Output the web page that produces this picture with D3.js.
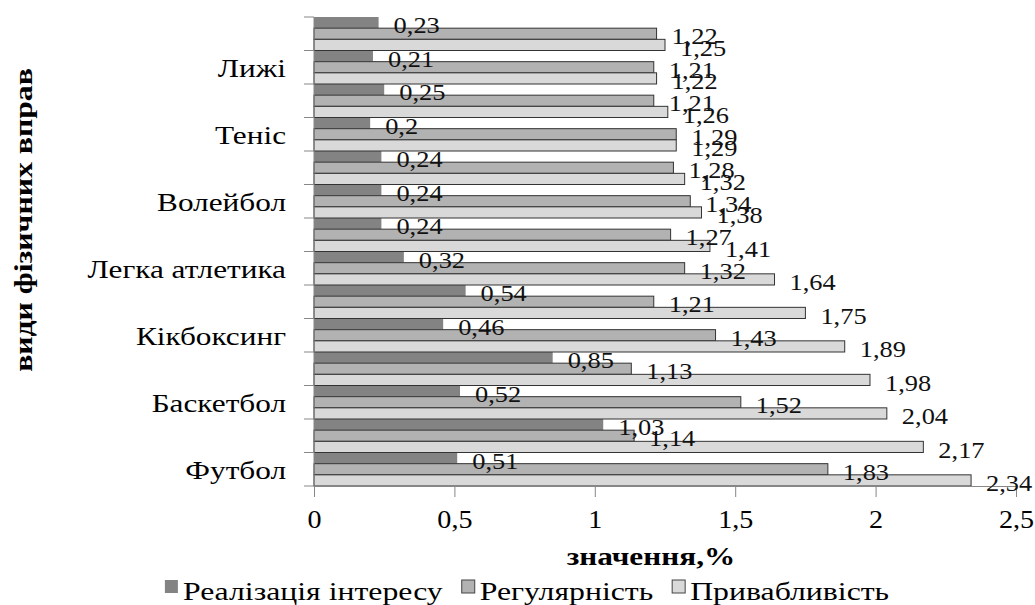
<!DOCTYPE HTML>
<html>
<head>
    <meta charset="utf-8">
    <title>Види фізичних вправ</title>
    <script src="https://d3js.org/d3.v7.min.js"></script>
    <style>
        body { margin: 0; background: #fff; }
        svg { display: block; font-family: "Liberation Serif", "Times New Roman", serif; }
    </style>
</head>
<body>
    <svg id="chart" width="1035" height="605"></svg>
    <script type="text/javascript">
        // categories from bottom to top, only every other one is labelled
        const categories = ["Футбол", "", "Баскетбол", "", "Кікбоксинг", "", "Легка атлетика", "", "Волейбол", "", "Теніс", "", "Лижі", ""];
        const interest = [0.51, 1.03, 0.52, 0.85, 0.46, 0.54, 0.32, 0.24, 0.24, 0.24, 0.2, 0.25, 0.21, 0.23];
        const regularity = [1.83, 1.14, 1.52, 1.13, 1.43, 1.21, 1.32, 1.27, 1.34, 1.28, 1.29, 1.21, 1.21, 1.22];
        const attractiveness = [2.34, 2.17, 2.04, 1.98, 1.89, 1.75, 1.64, 1.41, 1.38, 1.32, 1.29, 1.26, 1.22, 1.25];
        const seriesNames = ["Реалізація інтересу", "Регулярність", "Привабливість"];
        const xTicks = [0, 0.5, 1, 1.5, 2, 2.5];

        const series = [
            { name: seriesNames[0], values: interest, fill: "#838383", stroke: "none" },
            { name: seriesNames[1], values: regularity, fill: "#b2b2b2", stroke: "#333" },
            { name: seriesNames[2], values: attractiveness, fill: "#d9d9d9", stroke: "#333" }
        ];

        var svg = d3.select("svg#chart"),
            margin = { top: 17, right: 19, bottom: 119, left: 314 },
            width = +svg.attr("width") - margin.left - margin.right,
            height = +svg.attr("height") - margin.top - margin.bottom;

        const comma = v => String(v).replace(".", ",");

        // the original lettering is a bit wider than Liberation Serif
        function stretch(sel, k) {
            sel.each(function() {
                var w = this.getComputedTextLength();
                if (w > 0) {
                    d3.select(this)
                        .attr("textLength", w * k)
                        .attr("lengthAdjust", "spacingAndGlyphs");
                }
            });
        }

        var x = d3.scaleLinear().domain([0, 2.5]).range([0, width]);
        // index 0 at the bottom
        var y = d3.scaleBand()
            .domain(d3.range(categories.length))
            .range([height, 0]);
        var ySub = d3.scaleBand()
            .domain(d3.range(series.length))
            .range([0, y.bandwidth()]);

        var g = svg.append("g")
            .attr("transform", "translate(" + margin.left + "," + margin.top + ")");

        // bars
        series.forEach((s, si) => {
            g.append("g")
                .selectAll("rect")
                .data(s.values)
                .join("rect")
                .attr("x", 0)
                .attr("y", (d, i) => y(i) + ySub(si))
                .attr("width", d => x(d))
                .attr("height", ySub.bandwidth())
                .attr("fill", s.fill)
                .attr("stroke", s.stroke)
                .attr("stroke-width", 1);
        });

        // axes
        var xAxis = g.append("g")
            .attr("transform", "translate(0," + height + ")")
            .call(d3.axisBottom(x).tickValues(xTicks).tickFormat(comma).tickSize(11).tickPadding(13));
        xAxis.attr("font-family", null);
        xAxis.select(".domain").attr("stroke", "#878787");
        xAxis.selectAll(".tick line").attr("stroke", "#878787");
        xAxis.selectAll(".tick text")
            .attr("font-size", 26)
            .attr("fill", "#000")
            .call(stretch, 1.08);

        var yAxis = g.append("g");
        yAxis.append("line")
            .attr("x1", 0).attr("x2", 0)
            .attr("y1", 0).attr("y2", height)
            .attr("stroke", "#878787");
        yAxis.selectAll("line.tk")
            .data(d3.range(categories.length + 1))
            .join("line")
            .attr("class", "tk")
            .attr("x1", -10).attr("x2", 0)
            .attr("y1", d => d < categories.length ? y(d) + y.bandwidth() : 0)
            .attr("y2", d => d < categories.length ? y(d) + y.bandwidth() : 0)
            .attr("stroke", "#878787");
        yAxis.selectAll("text")
            .data(categories)
            .join("text")
            .attr("x", -28)
            .attr("y", (d, i) => y(i) + y.bandwidth() / 2)
            .attr("dy", "0.4em")
            .attr("text-anchor", "end")
            .attr("font-size", 25)
            .text(d => d)
            .call(stretch, 1.25);

        // data labels
        series.forEach((s, si) => {
            g.append("g")
                .selectAll("text")
                .data(s.values)
                .join("text")
                .attr("x", d => x(d) + 15)
                .attr("y", (d, i) => y(i) + ySub(si) + ySub.bandwidth() / 2 + 2)
                .attr("dy", "0.36em")
                .attr("font-size", 24)
                .attr("fill", "#111")
                .text(d => comma(d))
                .call(stretch, 1.1);
        });

        // axis titles
        svg.append("text")
            .attr("x", 651)
            .attr("y", 565)
            .attr("text-anchor", "middle")
            .attr("font-size", 25)
            .attr("font-weight", "bold")
            .text("значення,%")
            .call(stretch, 1.25);

        svg.append("text")
            .attr("transform", "translate(32,220) rotate(-90)")
            .attr("text-anchor", "middle")
            .attr("font-size", 26)
            .attr("font-weight", "bold")
            .text("види фізичних вправ")
            .call(stretch, 1.22);

        // legend, laid out left to right and centred
        var legend = svg.append("g");
        var lx = 0;
        series.forEach((s, si) => {
            var item = legend.append("g").attr("transform", "translate(" + lx + ",0)");
            item.append("rect")
                .attr("x", 0).attr("y", -20)
                .attr("width", 13).attr("height", 13)
                .attr("fill", s.fill)
                .attr("stroke", si === 0 ? "none" : "#444");
            var t = item.append("text")
                .attr("x", 18)
                .attr("y", 0)
                .attr("font-size", 25)
                .text(s.name);
            var w = t.node().getComputedTextLength() * 1.27;
            t.attr("textLength", w).attr("lengthAdjust", "spacingAndGlyphs");
            lx += 18 + w + 19;
        });
        var legendWidth = lx - 19;
        legend.attr("transform", "translate(" + (527 - legendWidth / 2) + ",600)");
    </script>
</body>
</html>
